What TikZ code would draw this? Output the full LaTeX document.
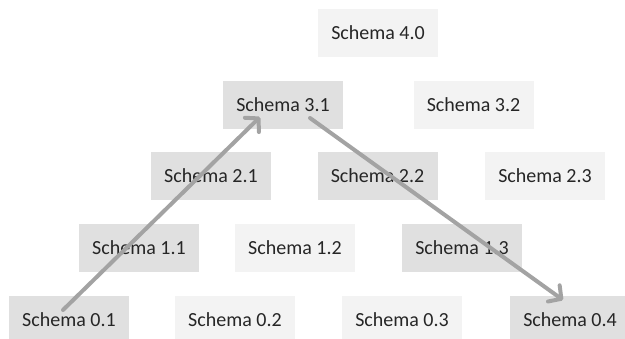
\documentclass[tikz,border=0pt]{standalone}
\usepackage{fontspec}
\setmainfont{Carlito}
\usetikzlibrary{arrows.meta,calc}
\definecolor{boxdark}{HTML}{E0E0E0}
\definecolor{boxlight}{HTML}{F3F3F3}
\definecolor{arrowgray}{HTML}{A3A3A3}
\definecolor{txt}{HTML}{262626}
\begin{document}
\begin{tikzpicture}[x=0.75pt,y=-0.75pt,
  schemabox/.style={rectangle, minimum width=90pt, minimum height=36pt, inner sep=0pt,
    font=\fontsize{15pt}{18pt}\selectfont, text=txt},
  darkbox/.style={schemabox, fill=boxdark},
  lightbox/.style={schemabox, fill=boxlight},
  arr/.style={draw=arrowgray, line width=3pt, line cap=round,
    -{Straight Barb[round, length=7pt, width=15pt, line width=3pt]}}]
\useasboundingbox (0,0) rectangle (625,339);
\clip (0,0) rectangle (625,339);
\node[lightbox] (s40) at (378,33) {Schema 4.0};
\node[darkbox]  (s31) at (283,105) {Schema 3.1};
\node[lightbox] (s32) at (473.5,105) {Schema 3.2};
\node[darkbox]  (s21) at (211,176) {Schema 2.1};
\node[darkbox]  (s22) at (377.5,176) {Schema 2.2};
\node[lightbox] (s23) at (545,176) {Schema 2.3};
\node[darkbox]  (s11) at (139,248) {Schema 1.1};
\node[lightbox] (s12) at (295,248) {Schema 1.2};
\node[darkbox]  (s13) at (462,248) {Schema 1.3};
\node[darkbox]  (s01) at (69,320) {Schema 0.1};
\node[lightbox] (s02) at (235,320) {Schema 0.2};
\node[lightbox] (s03) at (402,320) {Schema 0.3};
\node[darkbox]  (s04) at (570,320) {Schema 0.4};
\draw[arr] ([shift={(-6,-10)}]s01.center) -- ([shift={(-23,12)}]s31.center);
\draw[arr] ([shift={(27,13)}]s31.center) -- ([shift={(-7,-20)}]s04.center);
\end{tikzpicture}
\end{document}
